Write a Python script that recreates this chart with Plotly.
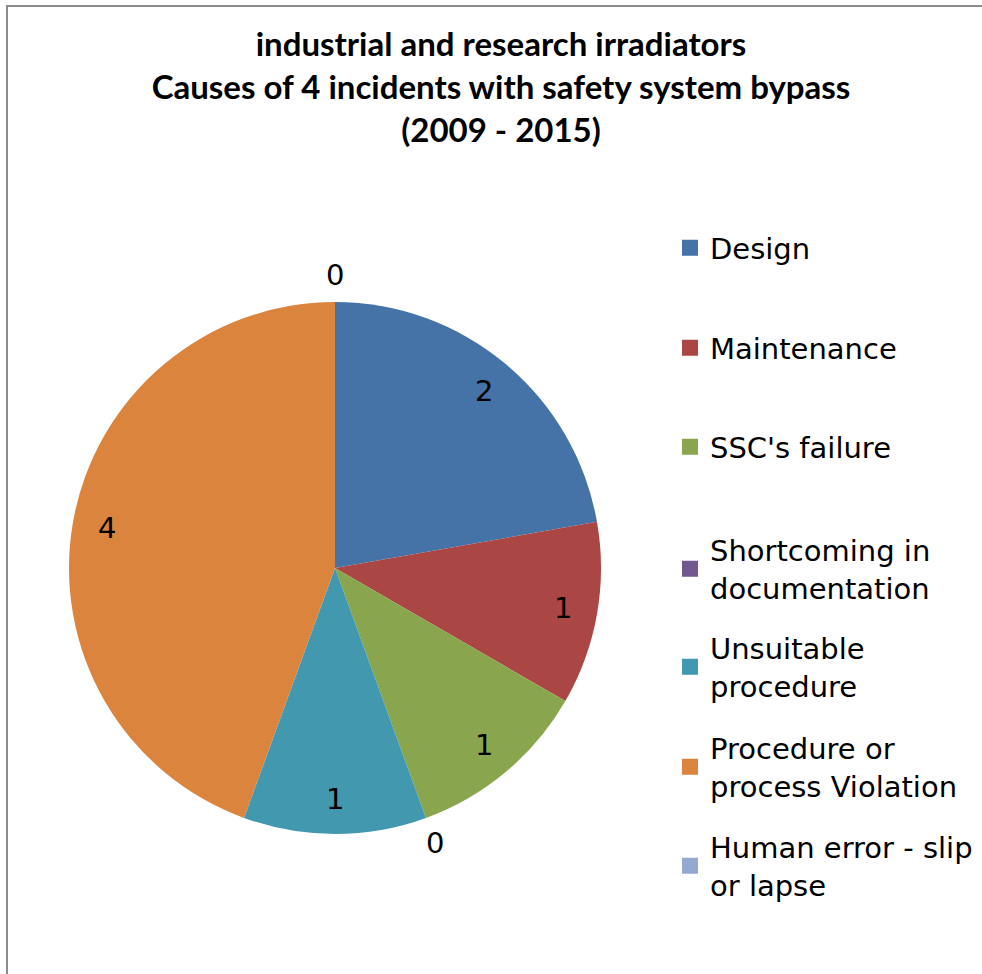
import math
import plotly.graph_objects as go

categories = ["Design", "Maintenance", "SSC's failure", "Shortcoming in documentation",
              "Unsuitable procedure", "Procedure or process Violation", "Human error - slip or lapse"]
legend_labels = ["Design", "Maintenance", "SSC's failure", "Shortcoming in<br>documentation",
                 "Unsuitable<br>procedure", "Procedure or<br>process Violation", "Human error - slip<br>or lapse"]
values = [2, 1, 1, 0, 1, 4, 0]
colors = ["#4572A7", "#AA4643", "#89A54E", "#71588F", "#4198AF", "#DB843D", "#93A9CF"]
title_lines = ["industrial and research irradiators",
               "Causes of 4 incidents with safety system bypass",
               "(2009 - 2015)"]

W, H = 982, 974
cx, cy, r = 335, 568, 266

fig = go.Figure()
fig.add_trace(go.Pie(
    labels=categories, values=values, sort=False, direction="clockwise", rotation=0,
    marker=dict(colors=colors, line=dict(width=0)),
    textinfo="none",
    domain=dict(x=[(cx - r) / W, (cx + r) / W], y=[(H - cy - r) / H, (H - cy + r) / H]),
    showlegend=False, hoverinfo="label+value",
))

# data labels, placed along each slice's mid angle (Excel "best fit" style)
total = sum(values)
annotations = []
cum = 0
for v in values:
    ang = math.radians((cum + v / 2) / total * 360)
    cum += v
    f = 0.87 if v > 0 else 1.1
    annotations.append(dict(
        x=(cx + f * r * math.sin(ang)) / W, y=(H - cy + f * r * math.cos(ang)) / H,
        xref="paper", yref="paper", text=str(v), showarrow=False,
        xanchor="center", yanchor="middle",
        font=dict(family="DejaVu Sans", size=29, color="black"),
    ))

# legend entries (one legend per entry, to reproduce the evenly spaced Excel legend)
legend_centers = [248, 348, 447, 569, 667, 767, 866]
layout_legends = {}
for i, (lab, col) in enumerate(zip(legend_labels, colors)):
    lname = "legend" if i == 0 else f"legend{i+1}"
    fig.add_trace(go.Scatter(
        x=[None], y=[None], mode="markers", name=lab,
        marker=dict(symbol="square", size=16, color=col),
        legend=lname, showlegend=True,
    ))
    layout_legends[lname] = dict(
        x=670 / W, xanchor="left", y=1 - legend_centers[i] / H, yanchor="middle",
        font=dict(family="DejaVu Sans", size=29, color="black"),
        bgcolor="rgba(0,0,0,0)", borderwidth=0,
    )

fig.update_layout(
    width=W, height=H,
    margin=dict(l=0, r=0, t=0, b=0),
    paper_bgcolor="white", plot_bgcolor="white",
    title=dict(text="<br>".join(title_lines), x=501 / W, xanchor="center",
               y=1 - 56 / H, yanchor="top", yref="container",
               font=dict(family="Lato", size=33, color="black", weight="bold")),
    xaxis=dict(visible=False), yaxis=dict(visible=False),
    annotations=annotations,
    shapes=[dict(type="rect", xref="paper", yref="paper",
                 x0=7 / W, x1=1.05, y0=-0.05, y1=1 - 6 / H,
                 line=dict(color="#8c8c8c", width=2), fillcolor="rgba(0,0,0,0)", layer="above")],
    **layout_legends,
)

fig.write_html("out.html", config={"displayModeBar": False},
               post_script="document.body.style.margin='0';")
